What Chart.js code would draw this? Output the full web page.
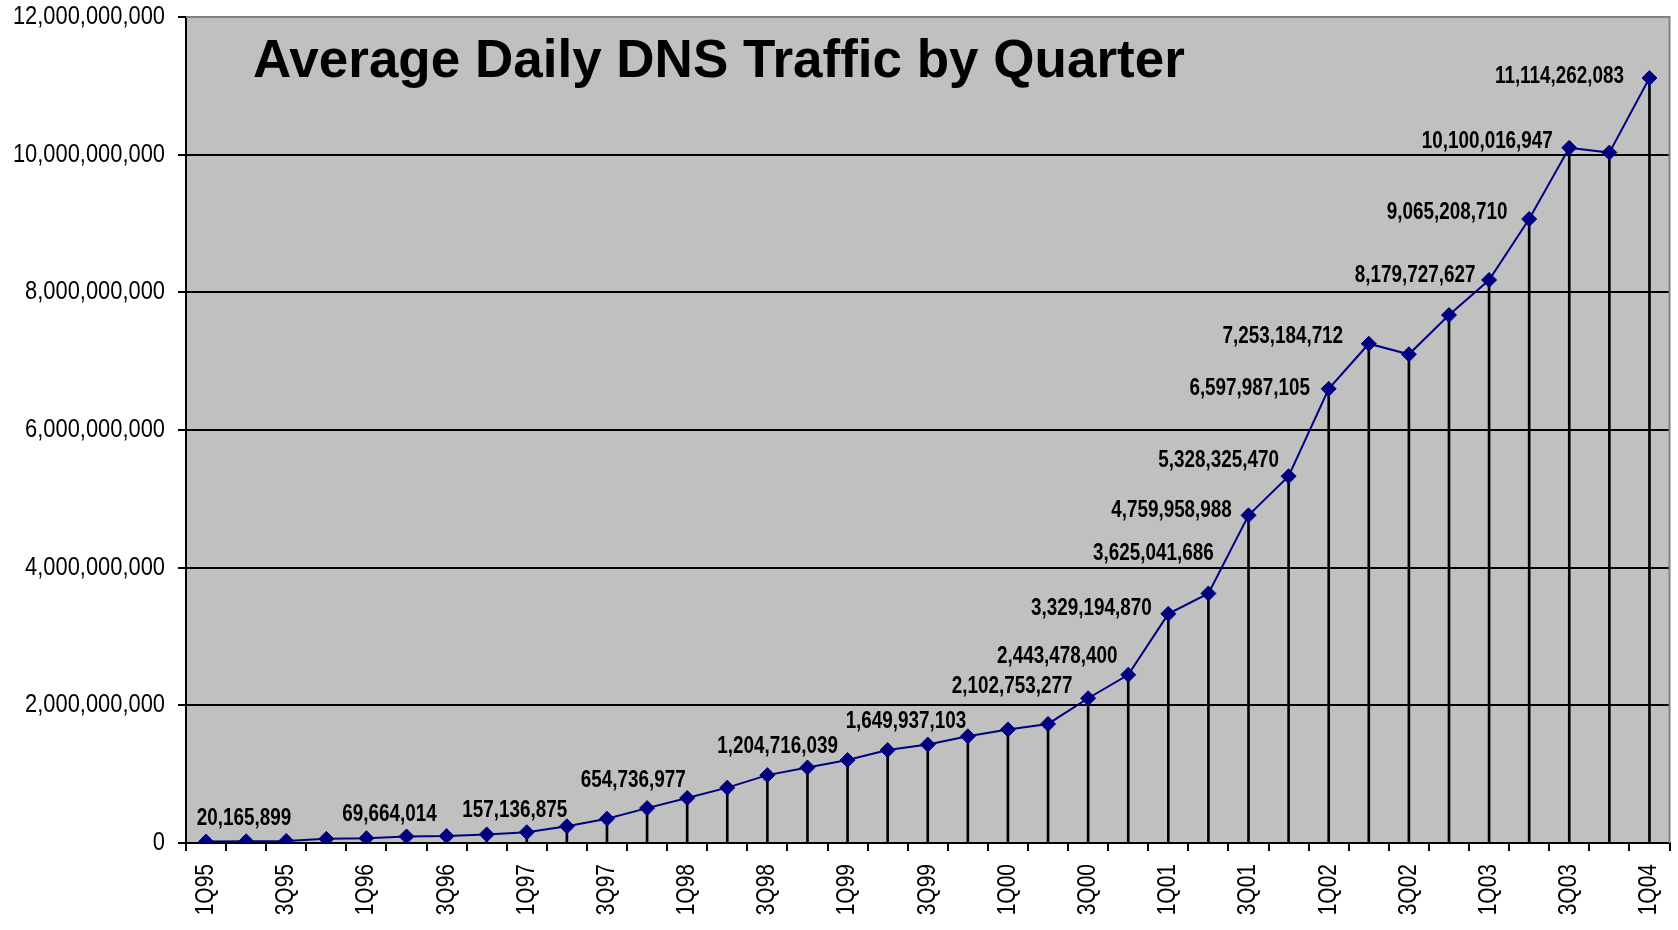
<!DOCTYPE html>
<html>
<head>
<meta charset="utf-8">
<script src="https://cdn.jsdelivr.net/npm/chart.js@4.4.0/dist/chart.umd.min.js"></script>
<style>
html,body{margin:0;padding:0;background:#ffffff;overflow:hidden;}
canvas{display:block;}
</style>
</head>
<body>
<canvas id="c" width="1678" height="930" style="width:1678px;height:930px"></canvas>
<script>
// ---- data ----
const quarters = [
  '1Q95','2Q95','3Q95','4Q95',
  '1Q96','2Q96','3Q96','4Q96',
  '1Q97','2Q97','3Q97','4Q97',
  '1Q98','2Q98','3Q98','4Q98',
  '1Q99','2Q99','3Q99','4Q99',
  '1Q00','2Q00','3Q00','4Q00',
  '1Q01','2Q01','3Q01','4Q01',
  '1Q02','2Q02','3Q02','4Q02',
  '1Q03','2Q03','3Q03','4Q03',
  '1Q04'
];
const dailyQueries = [
  20165899, 25000000, 30000000, 60000000,
  69664014, 95000000, 100000000, 125000000,
  157136875, 243000000, 353000000, 507000000,
  654736977, 804000000, 986000000, 1097000000,
  1204716039, 1350000000, 1430000000, 1550000000,
  1649937103, 1730000000, 2102753277, 2443478400,
  3329194870, 3625041686, 4759958988, 5328325470,
  6597987105, 7253184712, 7100000000, 7670000000,
  8179727627, 9065208710, 10100016947, 10030000000,
  11114262083
];
const labelledQuarters = ['1Q95','1Q96','1Q97','1Q98','1Q99','1Q00','3Q00','4Q00','1Q01','2Q01','3Q01','4Q01','1Q02','2Q02','1Q03','2Q03','3Q03','1Q04'];
const yTickValues = [0, 2000000000, 4000000000, 6000000000, 8000000000, 10000000000, 12000000000];
const xTickLabels = quarters.map((q, i) => (i % 2 === 0 ? q : ''));
const chartTitle = 'Average Daily DNS Traffic by Quarter';

// ---- label placement (offset of label centre from its point, px) ----
const labelNudge = [
  [38,-23],[23,-24],[-12,-22],[-54,-17],[-70,-13],[-102,-8],[-76,-12],[-71,-18],
  [-77,-5],[-55,-40],[-77,-5],[-70,-16],[-79,0],[-86,-7],[-74,-4],[-82,-6],[-82,-6],[-90,-1]
];

// ---- text helpers (Arial-Narrow-like: Liberation Sans compressed along the text direction) ----
const FAM = '"Liberation Sans", Arial, sans-serif';
function narrowText(ctx, text, x, y, align, font, squeeze, rotate) {
  ctx.save();
  ctx.translate(x, y);
  if (rotate) ctx.rotate(rotate);
  ctx.scale(squeeze, 1);
  ctx.font = font;
  ctx.textAlign = align;
  ctx.textBaseline = 'middle';
  ctx.fillStyle = '#000';
  ctx.fillText(text, 0, 0);
  ctx.restore();
}
const fmt = v => Number(v).toLocaleString('en-US');

const bgPlugin = {
  id: 'bg',
  beforeDraw(chart) {
    const {ctx, chartArea: a} = chart;
    ctx.save();
    ctx.fillStyle = '#C0C0C0';
    ctx.fillRect(a.left, a.top, a.right - a.left, a.bottom - a.top);
    ctx.restore();
  },
  beforeDatasetsDraw(chart) {
    const {ctx, chartArea: a} = chart;
    ctx.save();
    ctx.strokeStyle = '#808080';
    ctx.lineWidth = 2;
    ctx.beginPath();
    ctx.moveTo(a.left, a.top);
    ctx.lineTo(a.right, a.top);
    ctx.lineTo(a.right, a.bottom);
    ctx.stroke();
    ctx.fillStyle = '#000';
    ctx.font = 'bold 53px ' + FAM;
    ctx.textAlign = 'left';
    ctx.textBaseline = 'alphabetic';
    ctx.fillText(chartTitle, a.left + 67, a.top + 60);
    ctx.restore();
  }
};

const axisLabelPlugin = {
  id: 'axisLabels',
  afterDraw(chart) {
    const {ctx} = chart;
    const y = chart.scales.y, x = chart.scales.x;
    y.ticks.forEach((t, i) => {
      narrowText(ctx, fmt(t.value), y.right - 8 - 13, y.getPixelForTick(i), 'right', '25px ' + FAM, 0.875, 0);
    });
    x.ticks.forEach((t, i) => {
      const lab = xTickLabels[i];
      if (!lab) return;
      narrowText(ctx, lab, x.getPixelForTick(i), x.top + 8 + 13, 'right', '25px ' + FAM, 0.84, -Math.PI / 2);
    });
  }
};

const valueLabelPlugin = {
  id: 'valueLabels',
  afterDatasetsDraw(chart) {
    const {ctx} = chart;
    const meta = chart.getDatasetMeta(0);
    labelledQuarters.forEach((q, k) => {
      const i = quarters.indexOf(q);
      const p = meta.data[i];
      const n = labelNudge[k];
      narrowText(ctx, fmt(dailyQueries[i]), p.x + n[0], p.y + n[1], 'center', 'bold 23px ' + FAM, 0.82, 0);
    });
  }
};

new Chart(document.getElementById('c'), {
  type: 'bar',
  data: {
    labels: quarters,
    datasets: [
      {
        type: 'line',
        data: dailyQueries,
        borderColor: '#000080',
        borderWidth: 2,
        tension: 0,
        pointStyle: 'rectRot',
        pointRadius: 7.5,
        pointBackgroundColor: '#000080',
        pointBorderColor: '#000080',
        pointBorderWidth: 1,
        order: 0
      },
      {
        type: 'bar',
        data: dailyQueries,
        backgroundColor: '#000000',
        borderWidth: 0,
        barThickness: 2,
        order: 1
      }
    ]
  },
  options: {
    responsive: false,
    animation: false,
    events: [],
    layout: {padding: {top: 17, right: 7, left: 0, bottom: 0}},
    plugins: {legend: {display: false}, tooltip: {enabled: false}, title: {display: false}},
    scales: {
      x: {
        offset: true,
        grid: {offset: true, drawOnChartArea: false, drawTicks: true, tickLength: 8, color: '#000', lineWidth: 2},
        border: {color: '#000', width: 2},
        ticks: {display: false, autoSkip: false},
        afterFit: s => { s.height = 87; }
      },
      y: {
        min: 0, max: 12000000000,
        afterBuildTicks: s => { s.ticks = yTickValues.map(v => ({value: v})); },
        grid: {
          color: c => (c.tick && c.tick.value === 12000000000 ? '#808080' : '#000'),
          tickColor: '#000', lineWidth: 2, tickLength: 8, drawTicks: true
        },
        border: {color: '#000', width: 2},
        ticks: {display: false},
        afterFit: s => { s.width = 186; }
      }
    }
  },
  plugins: [bgPlugin, axisLabelPlugin, valueLabelPlugin]
});
</script>
</body>
</html>
